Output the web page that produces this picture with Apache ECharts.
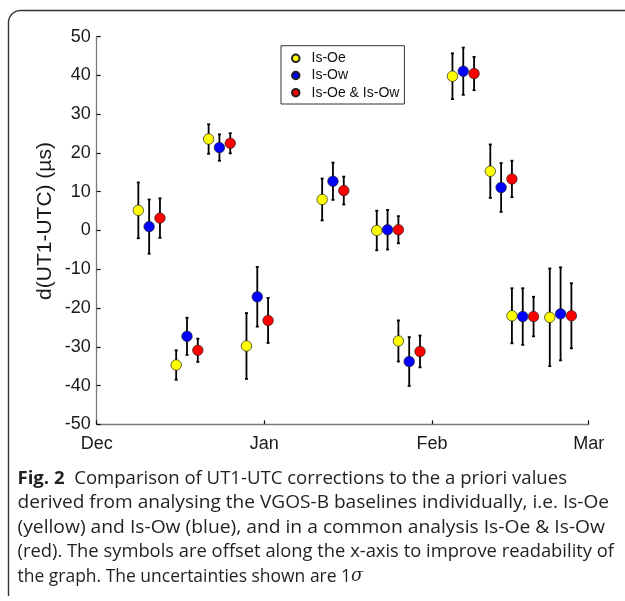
<!DOCTYPE html>
<html><head><meta charset="utf-8">
<script src="https://cdn.jsdelivr.net/npm/echarts@6/dist/echarts.min.js"></script>
<style>html,body{margin:0;padding:0;background:#fff}#c{width:625px;height:601px}</style>
</head><body><div id="c"></div>
<script>
// ---- data ----
const monthTickDays = [0, 31, 62, 91];           // days since 1 Dec
const monthLabels = ['Dec', 'Jan', 'Feb', 'Mar'];
const yMin = -50, yMax = 50, yStep = 10;
const seriesNames = ['Is-Oe', 'Is-Ow', 'Is-Oe & Is-Ow'];

const oeDays   = [7.7, 14.7, 20.7, 27.7, 41.7, 51.8, 55.8, 65.8, 72.8, 76.8, 83.8];
const oeValues = [5.2, -34.7, 23.6, -29.8, 8.0, 0.0, -28.5, 39.8, 15.3, -22.0, -22.4];
const oeSigma  = [7.2, 3.8, 3.8, 8.5, 5.4, 5.1, 5.3, 5.9, 6.9, 7.1, 12.6];

const owDays   = [9.7, 16.7, 22.7, 29.7, 43.7, 53.8, 57.8, 67.8, 74.8, 78.8, 85.8];
const owValues = [1.0, -27.3, 21.4, -17.1, 12.7, 0.2, -33.8, 41.1, 11.1, -22.2, -21.5];
const owSigma  = [7.0, 4.8, 3.4, 7.7, 4.8, 5.1, 6.3, 6.1, 6.3, 7.3, 12.0];

const bothDays   = [11.7, 18.7, 24.7, 31.7, 45.7, 55.8, 59.8, 69.8, 76.8, 80.8, 87.8];
const bothValues = [3.2, -30.9, 22.5, -23.2, 10.3, 0.2, -31.2, 40.5, 13.3, -22.2, -22.0];
const bothSigma  = [5.1, 3.0, 2.6, 5.8, 3.6, 3.5, 4.1, 4.3, 4.7, 5.1, 8.4];

const yAxisTitle = 'd(UT1-UTC) (µs)';
const captionLines = [
  ['Fig. 2', '  Comparison of UT1-UTC corrections to the a priori values'],
  ['', 'derived from analysing the VGOS-B baselines individually, i.e. Is-Oe'],
  ['', '(yellow) and Is-Ow (blue), and in a common analysis Is-Oe & Is-Ow'],
  ['', '(red). The symbols are offset along the x-axis to improve readability of'],
  ['', 'the graph. The uncertainties shown are 1']
];
const captionSigma = 'σ';

// ---- layout / style ----
const colors = ['#ffff00', '#0000ff', '#ff0000'];
const axisFamily = '"Liberation Sans", Arial, sans-serif';
const capFont = 18, capFamily = '"Open Sans"';
const capLeft = 17.5;
const capRight = [567, 609, 605, 614, 363];
const capCenterY = [478.5, 503, 527.5, 552, 576.5];

const ctx = document.createElement('canvas').getContext('2d');
function measure(font, t) { ctx.font = font; return ctx.measureText(t).width; }

const chart = echarts.init(document.getElementById('c'), null, {renderer: 'canvas'});

function errSeries(days, vals, sig, name) {
  return {
    type: 'custom', name: name + ' err', silent: true, z: 2,
    data: days.map((d, i) => [d, vals[i] - sig[i], vals[i] + sig[i]]),
    encode: {x: 0, y: [1, 2]},
    renderItem: function (params, api) {
      const lo = api.coord([api.value(0), api.value(1)]);
      const hi = api.coord([api.value(0), api.value(2)]);
      const c = 1.5, st = {stroke: '#000', lineWidth: 1.8};
      return {type: 'group', children: [
        {type: 'line', shape: {x1: lo[0], y1: lo[1], x2: hi[0], y2: hi[1]}, style: st},
        {type: 'line', shape: {x1: lo[0] - c, y1: lo[1], x2: lo[0] + c, y2: lo[1]}, style: st},
        {type: 'line', shape: {x1: hi[0] - c, y1: hi[1], x2: hi[0] + c, y2: hi[1]}, style: st}
      ]};
    }
  };
}
function ptSeries(days, vals, name, color) {
  return {
    type: 'scatter', name: name, z: 3, symbol: 'circle', symbolSize: 10.5,
    data: days.map((d, i) => [d, vals[i]]),
    itemStyle: {color: color, borderColor: '#222', borderWidth: 0.7, opacity: 1},
    emphasis: {disabled: true}
  };
}

// figure frame: left edge + rounded corner + top edge
const fr = 12, fx = 8.5, fy = 10.5;
const framePts = [[fx, 596]];
for (let k = 0; k <= 12; k++) {
  const a = Math.PI + (Math.PI / 2) * (k / 12);
  framePts.push([fx + fr + fr * Math.cos(a), fy + fr + fr * Math.sin(a)]);
}
framePts.push([640, fy]);

const graphics = [];
graphics.push({
  type: 'polyline', silent: true,
  shape: {points: framePts},
  style: {fill: null, stroke: '#333', lineWidth: 1.4}
});
graphics.push({
  type: 'text', x: 45, y: 221, rotation: Math.PI / 2, silent: true,
  style: {text: yAxisTitle, font: '21px ' + axisFamily, fill: '#1a1a1a', align: 'center', verticalAlign: 'middle'}
});
captionLines.forEach((ln, i) => {
  const bFont = 'bold ' + capFont + 'px ' + capFamily;
  const nFont = capFont + 'px ' + capFamily;
  const sFont = 'italic ' + capFont + 'px "DejaVu Serif"';
  let w = measure(bFont, ln[0]) + measure(nFont, ln[1]);
  let text = (ln[0] ? '{b|' + ln[0] + '}' : '') + '{n|' + ln[1] + '}';
  if (i === captionLines.length - 1) { w += measure(sFont, captionSigma); text += '{s|' + captionSigma + '}'; }
  const sx = (capRight[i] - capLeft) / w;
  graphics.push({
    type: 'text', x: capLeft, y: capCenterY[i], scaleX: sx, silent: true,
    style: {
      text: text, verticalAlign: 'middle', align: 'left',
      rich: {
        b: {font: bFont, fill: '#231f20'},
        n: {font: nFont, fill: '#231f20'},
        s: {font: sFont, fill: '#231f20'}
      }
    }
  });
});

chart.setOption({
  animation: false,
  backgroundColor: '#fff',
  grid: {left: 96.7, right: 36.3, top: 36.7, bottom: 176.7, containLabel: false},
  legend: {
    data: seriesNames, orient: 'vertical', left: 281, top: 45.7,
    icon: 'circle', itemWidth: 7.5, itemHeight: 7.5, itemGap: 3.2,
    padding: [5.6, 5, 4.3, 10],
    borderColor: '#333', borderWidth: 1, backgroundColor: '#fff',
    textStyle: {fontFamily: axisFamily, fontSize: 14, color: '#111', lineHeight: 14, padding: [0, 0, 0, 7]},
    selectedMode: false
  },
  xAxis: {
    type: 'value', min: monthTickDays[0], max: monthTickDays[monthTickDays.length - 1],
    axisLine: {show: true, onZero: false, lineStyle: {color: '#7a7a7a', width: 1.3}},
    axisTick: {show: true, inside: true, length: 4, customValues: monthTickDays, lineStyle: {color: '#111', width: 1.2}},
    axisLabel: {customValues: monthTickDays, margin: 11, fontFamily: axisFamily, fontSize: 18, color: '#1a1a1a',
      formatter: v => monthLabels[monthTickDays.indexOf(v)] || ''},
    splitLine: {show: false}
  },
  yAxis: {
    type: 'value', min: yMin, max: yMax, interval: yStep,
    axisLine: {show: true, onZero: false, lineStyle: {color: '#7a7a7a', width: 1.3}},
    axisTick: {show: true, inside: true, length: 4, lineStyle: {color: '#111', width: 1.2}},
    axisLabel: {margin: 6, fontFamily: axisFamily, fontSize: 18, color: '#1a1a1a'},
    splitLine: {show: false}
  },
  graphic: graphics,
  series: [
    errSeries(oeDays, oeValues, oeSigma, seriesNames[0]),
    errSeries(owDays, owValues, owSigma, seriesNames[1]),
    errSeries(bothDays, bothValues, bothSigma, seriesNames[2]),
    ptSeries(oeDays, oeValues, seriesNames[0], colors[0]),
    ptSeries(owDays, owValues, seriesNames[1], colors[1]),
    ptSeries(bothDays, bothValues, seriesNames[2], colors[2])
  ]
});
</script></body></html>
